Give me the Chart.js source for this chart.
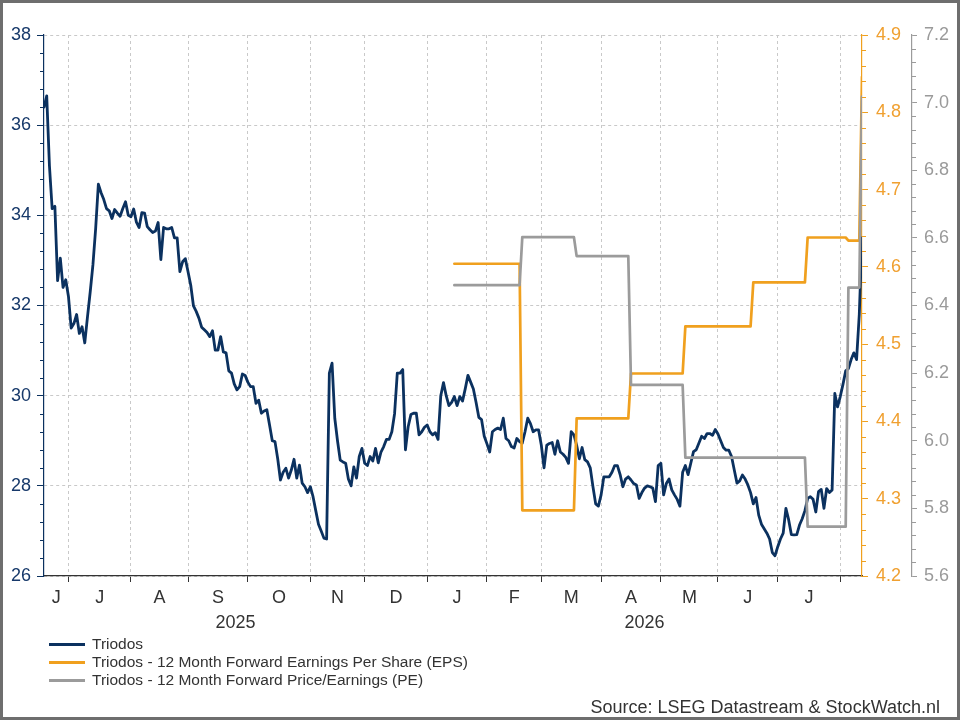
<!DOCTYPE html>
<html>
<head>
<meta charset="utf-8">
<title>Triodos - koers, EPS en PE</title>
<script src="https://cdn.jsdelivr.net/npm/chart.js@4.4.1/dist/chart.umd.min.js"></script>
<style>
  html, body { margin: 0; padding: 0; background: #fff; }
  #frame {
    position: relative;
    width: 954px;
    height: 714px;
    border: 3px solid #6e6e6e;
    background: #fff;
    font-family: 'Liberation Sans', Arial, sans-serif;
    color: #333;
  }
  #chart { display: block; }
  #legend {
    position: absolute;
    left: 46px;
    top: 632px;
    font-size: 15.5px;
  }
  .legend-row { display: flex; align-items: center; height: 18px; line-height: 18px; }
  .swatch { width: 36px; height: 3px; margin-right: 7px; }
  #source {
    position: absolute;
    right: 17px;
    top: 694px;
    font-size: 18px;
    line-height: 20px;
  }
</style>
</head>
<body>
<div id="frame">
  <canvas id="chart" width="954" height="714"></canvas>
  <div id="legend"></div>
  <div id="source">Source: LSEG Datastream &amp; StockWatch.nl</div>
</div>
<script>
// x = trading-day index, day 0 = 18 Jun 2025, last day = 301 (mid Aug 2026)
const lastDay = 301;

// month axis: first trading day of each month, letters centred per month
const monthStartDays = [9, 32, 53, 75, 98, 118, 141, 163, 183, 205, 227, 248, 270, 293];
const monthLabels = ['J', 'J', 'A', 'S', 'O', 'N', 'D', 'J', 'F', 'M', 'A', 'M', 'J', 'J'];
const yearStartDays = [0, 141];
const yearLabels = ['2025', '2026'];

// Triodos share price (EUR), one value per trading day
const priceValues = [
  36.4, 36.65, 35.1, 34.15, 34.2, 32.55, 33.05, 32.4, 32.57, 32.2,
  31.5, 31.6, 31.8, 31.38, 31.53, 31.17, 31.75, 32.3, 32.9, 33.7,
  34.69, 34.5, 34.35, 34.15, 34.1, 33.93, 34.13, 34.05, 33.98, 34.15,
  34.3, 34.0, 33.97, 34.14, 33.85, 33.73, 34.06, 34.05, 33.75, 33.68,
  33.62, 33.65, 33.84, 33.02, 33.73, 33.7, 33.7, 33.73, 33.5, 33.5,
  32.75, 32.97, 33.04, 32.75, 32.45, 31.99, 31.87, 31.72, 31.52, 31.46,
  31.4, 31.31, 31.44, 31.01, 31.01, 31.31, 30.97, 30.95, 30.55, 30.5,
  30.26, 30.13, 30.2, 30.48, 30.45, 30.3, 30.2, 30.2, 29.83, 29.9,
  29.61, 29.66, 29.69, 29.35, 29.0, 28.98, 28.6, 28.13, 28.3, 28.39,
  28.17, 28.35, 28.59, 28.17, 28.46, 28.06, 27.98, 27.85, 27.98, 27.76,
  27.45, 27.15, 27.0, 26.84, 26.82, 30.5, 30.72, 29.5, 29.0, 28.57,
  28.53, 28.5, 28.15, 28.0, 28.42, 28.17, 28.65, 28.83, 28.5, 28.45,
  28.65, 28.55, 28.83, 28.51, 28.75, 28.87, 29.03, 29.03, 29.2, 29.6,
  30.5, 30.5, 30.58, 28.8, 29.31, 29.58, 29.61, 29.61, 29.13, 29.2,
  29.3, 29.35, 29.2, 29.13, 29.18, 29.03, 30.0, 30.29, 30.0, 29.78,
  29.85, 29.98, 29.78, 29.98, 29.88, 30.15, 30.45, 30.3, 30.15, 29.85,
  29.52, 29.47, 29.1, 28.93, 28.75, 29.2, 29.25, 29.28, 29.25, 29.5,
  29.05, 29.0, 28.87, 28.84, 29.05, 28.98, 28.95, 29.2, 29.5, 29.38,
  29.2, 29.24, 29.24, 28.9, 28.4, 28.9, 28.94, 28.96, 28.7, 29.0,
  28.75, 28.7, 28.63, 28.5, 29.2, 29.13, 28.9, 28.6, 28.85, 28.58,
  28.53, 28.4, 27.98, 27.6, 27.55, 27.8, 28.2, 28.2, 28.2, 28.3,
  28.45, 28.45, 28.25, 27.98, 28.15, 28.2, 28.13, 28.05, 28.02, 27.72,
  27.85, 27.95, 28.0, 27.98, 27.95, 27.65, 28.45, 28.5, 27.8, 28.05,
  28.15, 27.91, 27.8, 27.7, 27.55, 28.3, 28.45, 28.25, 28.5, 28.76,
  28.8, 28.95, 29.1, 29.05, 29.16, 29.16, 29.12, 29.25, 29.15, 29.0,
  28.85, 28.79, 28.79, 28.65, 28.35, 28.06, 28.11, 28.24, 28.15, 28.02,
  27.85, 27.6, 27.74, 27.35, 27.15, 27.05, 26.95, 26.82, 26.52, 26.45,
  26.65, 26.82, 26.95, 27.5, 27.25, 26.92, 26.91, 26.92, 27.13, 27.27,
  27.45, 27.72, 27.76, 27.7, 27.42, 27.87, 27.92, 27.5, 27.94, 27.85,
  27.91, 30.05, 29.75, 29.98, 30.25, 30.55, 30.6, 30.8, 30.95, 30.8,
  31.8, 33.5
];

// 12M forward EPS: day the estimate changed + new level
const epsChangeDays = [151, 176, 196, 216, 236, 261, 281, 296, 301];
const epsValues = [4.604, 4.285, 4.404, 4.462, 4.523, 4.58, 4.638, 4.634, 4.846];

// 12M forward PE: day of change + new level
const peChangeDays = [151, 176, 196, 216, 236, 281, 296, 301];
const peValues = [6.46, 6.602, 6.546, 6.165, 5.95, 5.746, 6.453, 7.018];

const NAVY = '#0b315f';
const ORANGE = '#f0a01e';
const GRAY = '#9b9b9b';
const GRID = '#c9c9c9';
const TEXT = '#333333';

Chart.defaults.font.family = "'Liberation Sans', Arial, sans-serif";

// turn change-day lists into flat step segments
function stepPoints(days, values) {
  const pts = [];
  days.forEach((d, i) => {
    const end = i < days.length - 1 ? days[i + 1] - 1 : lastDay;
    pts.push({ x: d, y: values[i] });
    if (end > d) pts.push({ x: end, y: values[i] });
  });
  return pts;
}

const monthBounds = [0, ...monthStartDays];
const monthCentres = monthLabels.map((_, i) => (monthBounds[i] + monthBounds[i + 1]) / 2);

const yearBounds = [...yearStartDays, lastDay];
const yearCentres = yearLabels.map((_, i) => (yearBounds[i] + yearBounds[i + 1]) / 2);

// short minor tick marks on the value axes (every tick that is not a 5th one)
const minorTicks = {
  id: 'minorTicks',
  afterDraw(chart) {
    const { ctx } = chart;
    ['y', 'eps', 'pe'].forEach((id) => {
      const scale = chart.scales[id];
      const onLeft = scale.position === 'left';
      const edge = onLeft ? scale.right : scale.left;
      ctx.save();
      ctx.strokeStyle = scale.options.border.color;
      ctx.lineWidth = 1;
      scale.ticks.forEach((tick, i) => {
        if (i % 5 === 0) return;
        const y = Math.round(scale.getPixelForValue(tick.value)) + 0.5;
        ctx.beginPath();
        ctx.moveTo(edge, y);
        ctx.lineTo(edge + (onLeft ? -4 : 4), y);
        ctx.stroke();
      });
      ctx.restore();
    });
  }
};

function valueAxis(opts) {
  return {
    type: 'linear',
    position: opts.position,
    weight: opts.weight || 0,
    min: opts.min,
    max: opts.max,
    afterFit: (scale) => { scale.width = opts.width; },
    border: { color: opts.color, width: 1.2, dash: [3, 3] },
    grid: {
      drawOnChartArea: !!opts.gridLines,
      color: (c) => (c.index % 5 === 0 ? GRID : 'transparent'),
      tickColor: (c) => (c.index % 5 === 0 ? opts.color : 'transparent'),
      tickLength: opts.tickLength,
      lineWidth: 1
    },
    ticks: {
      stepSize: opts.step,
      autoSkip: false,
      padding: opts.padding,
      color: opts.labelColor,
      font: { size: 18 },
      callback: (v, i) => (i % 5 === 0 ? v.toFixed(opts.decimals) : '')
    }
  };
}

// label-only bottom axis (month letters, years)
function labelAxis(weight, values, labels, height, padding) {
  return {
    type: 'linear',
    position: 'bottom',
    weight,
    min: 0,
    max: lastDay,
    afterBuildTicks: (scale) => { scale.ticks = values.map((v) => ({ value: v })); },
    afterFit: (scale) => { scale.height = height; },
    border: { display: false },
    grid: { display: false, drawTicks: false },
    ticks: {
      autoSkip: false,
      maxRotation: 0,
      minRotation: 0,
      padding,
      color: TEXT,
      font: { size: 18 },
      callback: (v, i) => labels[i]
    }
  };
}

const ctx = document.getElementById('chart');
const chart = new Chart(ctx, {
  type: 'line',
  data: {
    datasets: [
      {
        label: 'Triodos - 12 Month Forward Price/Earnings (PE)',
        data: stepPoints(peChangeDays, peValues),
        yAxisID: 'pe',
        borderColor: GRAY,
        borderWidth: 2.7,
        order: 1
      },
      {
        label: 'Triodos - 12 Month Forward Earnings Per Share (EPS)',
        data: stepPoints(epsChangeDays, epsValues),
        yAxisID: 'eps',
        borderColor: ORANGE,
        borderWidth: 2.7,
        order: 2
      },
      {
        label: 'Triodos',
        data: priceValues.map((v, i) => ({ x: i, y: v })),
        yAxisID: 'y',
        borderColor: NAVY,
        borderWidth: 2.8,
        order: 3
      }
    ]
  },
  options: {
    responsive: false,
    animation: false,
    parsing: false,
    elements: {
      point: { radius: 0 },
      line: { tension: 0, borderJoinStyle: 'round', borderCapStyle: 'round' }
    },
    layout: { padding: { left: 0, right: 3, top: 32, bottom: 83 } },
    plugins: {
      legend: { display: false },
      tooltip: { enabled: false }
    },
    scales: {
      // month boundaries: grid lines + tick marks, no labels
      x: {
        type: 'linear',
        position: 'bottom',
        weight: 0,
        min: 0,
        max: lastDay,
        afterBuildTicks: (scale) => { scale.ticks = monthStartDays.map((v) => ({ value: v })); },
        afterFit: (scale) => { scale.height = 6; },
        border: { color: TEXT, width: 1.2, dash: [3, 3] },
        grid: { color: GRID, tickColor: TEXT, tickLength: 6, lineWidth: 1 },
        ticks: { display: false, autoSkip: false }
      },
      months: labelAxis(1, monthCentres, monthLabels, 27, 5),
      years: labelAxis(2, yearCentres, yearLabels, 25, 3),
      y: valueAxis({
        position: 'left', min: 26, max: 38, step: 0.4, decimals: 0,
        color: NAVY, labelColor: '#17396a', width: 41, tickLength: 7, padding: 6, gridLines: true
      }),
      eps: valueAxis({
        position: 'right', weight: 0, min: 4.2, max: 4.9, step: 0.02, decimals: 1,
        color: ORANGE, labelColor: '#f0a030', width: 50, tickLength: 6, padding: 8
      }),
      pe: valueAxis({
        position: 'right', weight: 1, min: 5.6, max: 7.2, step: 0.04, decimals: 1,
        color: GRAY, labelColor: '#9a9a9a', width: 42, tickLength: 5, padding: 7
      })
    }
  },
  plugins: [minorTicks]
});

// legend rows in the order of the original chart
const legendItems = [
  { text: 'Triodos', color: NAVY },
  { text: 'Triodos - 12 Month Forward Earnings Per Share (EPS)', color: ORANGE },
  { text: 'Triodos - 12 Month Forward Price/Earnings (PE)', color: GRAY }
];
const legendEl = document.getElementById('legend');
legendItems.forEach((item) => {
  const row = document.createElement('div');
  row.className = 'legend-row';
  const sw = document.createElement('span');
  sw.className = 'swatch';
  sw.style.background = item.color;
  const label = document.createElement('span');
  label.textContent = item.text;
  row.appendChild(sw);
  row.appendChild(label);
  legendEl.appendChild(row);
});
</script>
</body>
</html>
